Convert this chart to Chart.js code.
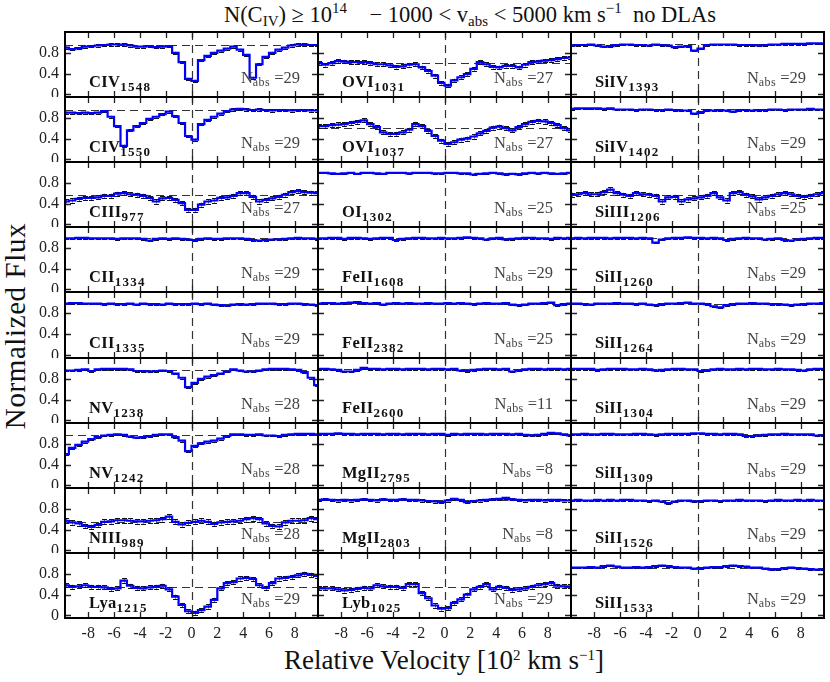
<!DOCTYPE html>
<html>
<head>
<meta charset="utf-8">
<script src="https://cdn.jsdelivr.net/npm/chart.js"></script>
<style>
body { margin: 0; background: #fff; }
#fig { position: relative; width: 830px; height: 682px; font-family: "Liberation Serif", serif; color: #111; }
#fig canvas { position: absolute; }
.txt { position: absolute; white-space: nowrap; line-height: 16px; }
.lab { font-size: 16.5px; font-weight: bold; letter-spacing: 0.3px; }
.lab sub { font-size: 13px; letter-spacing: 1.3px; vertical-align: -4px; line-height: 16px; }
.nabs { font-size: 16.5px; color: #444; text-align: right; }
.nabs sub { font-size: 12px; letter-spacing: 0.4px; vertical-align: -3px; line-height: 16px; }
#title { left: 470px; top: 2px; font-size: 22.5px; line-height: 26px; transform: translateX(-50%); }
#title sub, #xtitle sub { font-size: 15px; vertical-align: -4px; line-height: 10px; }
#title sup, #xtitle sup { font-size: 15px; vertical-align: 9px; line-height: 10px; }
#xtitle { left: 444px; top: 645px; font-size: 27px; line-height: 30px; transform: translateX(-50%); }
#ytitle { left: 15px; top: 326px; font-size: 29px; letter-spacing: 0.6px; line-height: 30px; transform: translate(-50%, -50%) rotate(-90deg); }
</style>
</head>
<body>
<div id="fig">
  <div id="title" class="txt">N(C<sub>IV</sub>) ≥ 10<sup>14</sup> &nbsp;&nbsp; − 1000 &lt; v<sub>abs</sub> &lt; 5000 km s<sup>−1</sup> &nbsp;no DLAs</div>
  <div id="ytitle" class="txt">Normalized Flux</div>
  <div id="xtitle" class="txt">Relative Velocity [10<sup>2</sup> km s<sup>−1</sup>]</div>
</div>
<script>
// velocity bin centres, units of 100 km/s
const vel = [-9.75, -9.25, -8.75, -8.25, -7.75, -7.25, -6.75, -6.25, -5.75, -5.25,
             -4.75, -4.25, -3.75, -3.25, -2.75, -2.25, -1.75, -1.25, -0.75, -0.25,
              0.25, 0.75, 1.25, 1.75, 2.25, 2.75, 3.25, 3.75, 4.25, 4.75,
              5.25, 5.75, 6.25, 6.75, 7.25, 7.75, 8.25, 8.75, 9.25, 9.75];

const xTicks = [-8, -6, -4, -2, 0, 2, 4, 6, 8];
const xTickLabels = ["-8", "-6", "-4", "-2", "0", "2", "4", "6", "8"];
const yTicks = [0, 0.4, 0.8];
const yTickLabels = ["0", "0.4", "0.8"];

// column 1
const fCIV1548 = [0.90,0.87,0.89,0.92,0.93,0.94,0.95,0.96,0.96,0.96, 0.94,0.92,0.92,0.93,0.91,0.92,0.93,0.80,0.62,0.30,
                  0.26,0.66,0.74,0.80,0.84,0.88,0.92,0.86,0.76,0.32, 0.58,0.72,0.80,0.86,0.90,0.94,0.96,0.96,0.95,0.95];
const fCIV1550 = [0.90,0.90,0.89,0.90,0.89,0.90,0.93,0.82,0.64,0.26, 0.56,0.64,0.70,0.78,0.82,0.87,0.92,0.83,0.70,0.45,
                  0.38,0.68,0.76,0.82,0.88,0.93,0.96,0.97,0.96,0.95, 0.96,0.95,0.94,0.95,0.95,0.94,0.95,0.95,0.94,0.94];
const fCIII977 = [0.44,0.46,0.49,0.51,0.51,0.52,0.55,0.55,0.59,0.60, 0.58,0.57,0.55,0.51,0.44,0.50,0.51,0.47,0.41,0.28,
                  0.28,0.38,0.44,0.46,0.51,0.52,0.55,0.60,0.60,0.53, 0.44,0.47,0.50,0.53,0.57,0.62,0.64,0.62,0.61,0.60];
const fCII1334 = [0.98,0.98,0.99,0.99,0.98,0.98,0.98,0.98,0.97,0.98, 0.98,0.98,0.97,0.94,0.97,0.98,0.97,0.98,0.97,0.96,
                  0.95,0.97,0.98,0.97,0.97,0.98,0.98,0.98,0.97,0.95, 0.94,0.95,0.96,0.96,0.97,0.98,0.99,0.98,0.98,0.97];
const fCII1335 = [0.98,0.99,0.99,0.98,0.98,0.98,0.97,0.98,0.97,0.97, 0.98,0.96,0.98,0.97,0.97,0.96,0.98,0.97,0.97,0.97,
                  0.98,0.97,0.98,0.96,0.95,0.94,0.96,0.97,0.96,0.97, 0.98,0.98,0.98,0.97,0.97,0.98,0.98,0.97,0.96,0.95];
const fNV1238 = [0.96,0.96,0.97,0.98,0.95,0.98,0.99,0.99,0.99,0.99, 0.98,0.95,0.95,0.94,0.95,0.96,0.95,0.90,0.82,0.64,
                 0.72,0.80,0.84,0.87,0.90,0.94,0.98,0.96,0.94,0.94, 0.96,0.98,0.99,0.99,0.99,0.98,0.97,0.93,0.82,0.68];
const fNV1242 = [0.60,0.72,0.78,0.84,0.89,0.93,0.96,0.97,0.98,0.97, 0.94,0.92,0.93,0.95,0.97,0.98,0.98,0.93,0.86,0.66,
                 0.76,0.81,0.84,0.86,0.90,0.95,0.98,0.98,0.97,0.97, 0.98,0.96,0.96,0.95,0.97,0.98,0.99,0.99,0.99,0.98];
const fNIII989 = [0.57,0.54,0.52,0.47,0.45,0.49,0.55,0.56,0.58,0.58, 0.57,0.56,0.56,0.57,0.58,0.60,0.65,0.55,0.50,0.53,
                  0.55,0.57,0.55,0.51,0.54,0.55,0.56,0.57,0.60,0.62, 0.60,0.52,0.47,0.46,0.54,0.57,0.57,0.58,0.62,0.60];
const fLya1215 = [0.58,0.55,0.56,0.58,0.55,0.55,0.54,0.51,0.52,0.67, 0.57,0.53,0.52,0.54,0.55,0.57,0.50,0.36,0.20,0.08,
                  0.05,0.10,0.17,0.30,0.52,0.62,0.64,0.71,0.72,0.70, 0.58,0.53,0.62,0.71,0.72,0.74,0.77,0.80,0.78,0.76];
// column 2
const fOVI1031 = [0.60,0.57,0.60,0.64,0.63,0.62,0.62,0.62,0.60,0.58, 0.58,0.56,0.53,0.54,0.57,0.58,0.52,0.45,0.36,0.22,
                  0.17,0.27,0.33,0.39,0.49,0.62,0.58,0.53,0.52,0.55, 0.55,0.52,0.57,0.62,0.63,0.65,0.66,0.68,0.70,0.71];
const fOVI1037 = [0.64,0.64,0.66,0.67,0.68,0.70,0.72,0.75,0.68,0.62, 0.52,0.49,0.49,0.52,0.57,0.68,0.64,0.55,0.45,0.36,
                  0.30,0.33,0.38,0.40,0.44,0.50,0.55,0.61,0.63,0.60, 0.56,0.62,0.68,0.72,0.74,0.73,0.70,0.66,0.60,0.56];
const fOI1302 = [0.99,0.99,0.98,0.97,0.98,0.99,0.97,0.99,0.99,0.98, 0.97,0.99,0.99,0.99,0.98,0.99,0.99,0.99,0.98,0.98,
                 0.99,0.99,0.98,0.98,0.96,0.97,0.98,0.99,0.98,0.96, 0.97,0.96,0.98,0.99,0.98,0.99,0.98,0.97,0.98,0.99];
const fFeII1608 = [0.98,0.98,0.99,0.99,0.97,0.99,0.99,0.98,0.97,0.98, 0.99,0.99,0.95,0.97,0.98,0.99,0.99,0.98,0.98,0.99,
                   0.98,0.98,0.99,1.00,0.99,0.98,0.96,0.98,0.99,0.96, 0.97,0.98,0.99,0.99,0.98,0.98,0.97,0.99,0.98,0.99];
const fFeII2382 = [0.98,0.99,0.99,0.98,0.99,1.00,1.01,0.99,0.98,0.99, 0.96,0.98,0.99,0.98,0.99,0.98,0.98,0.99,0.98,0.98,
                   0.99,0.98,0.99,0.98,0.97,0.98,0.99,0.98,0.98,0.99, 0.96,0.95,0.96,0.98,0.98,0.99,1.00,0.95,0.97,0.98];
const fFeII2600 = [0.99,0.99,0.98,0.97,0.94,0.94,0.97,1.01,0.99,0.99, 0.98,0.99,0.99,0.98,0.99,0.99,0.99,0.98,0.99,0.99,
                   0.98,0.99,0.96,0.95,0.97,0.98,0.99,0.99,0.98,0.99, 0.94,0.96,0.98,0.99,0.99,0.98,0.99,0.99,0.98,0.99];
const fMgII2795 = [0.99,0.99,0.99,1.00,0.99,0.99,0.98,0.99,0.99,0.99, 0.98,0.99,0.99,0.98,0.99,0.99,0.99,0.98,0.99,0.99,
                   0.97,0.99,0.98,0.99,0.99,0.99,0.98,0.99,0.99,0.99, 0.98,0.99,0.97,0.96,0.97,0.99,1.01,1.00,0.98,0.96];
const fMgII2803 = [0.97,0.98,0.97,0.96,0.97,0.96,0.97,0.98,0.97,0.96, 0.98,0.97,0.97,0.98,0.97,0.97,0.96,0.95,0.94,0.93,
                   0.96,0.99,0.97,0.93,0.95,0.96,0.97,0.98,0.99,1.01, 0.98,0.97,0.96,0.97,0.97,0.96,0.97,0.97,0.96,0.96];
const fLyb1025 = [0.52,0.52,0.52,0.50,0.48,0.49,0.51,0.53,0.52,0.58, 0.56,0.55,0.55,0.53,0.60,0.60,0.43,0.33,0.19,0.13,
                  0.14,0.24,0.31,0.40,0.50,0.55,0.60,0.50,0.55,0.53, 0.49,0.50,0.52,0.55,0.58,0.60,0.62,0.57,0.56,0.56];
// column 3
const fSiIV1393 = [0.94,0.95,0.95,0.96,0.94,0.92,0.93,0.95,0.96,0.96, 0.95,0.95,0.94,0.96,0.95,0.94,0.91,0.92,0.93,0.84,
                   0.88,0.95,0.96,0.96,0.96,0.96,0.95,0.95,0.95,0.94, 0.95,0.96,0.96,0.97,0.97,0.97,0.97,0.98,0.98,0.98];
const fSiIV1402 = [0.97,0.98,0.98,0.98,0.98,0.97,0.98,0.96,0.96,0.96, 0.95,0.96,0.96,0.95,0.95,0.96,0.95,0.94,0.94,0.88,
                   0.91,0.95,0.94,0.95,0.94,0.92,0.95,0.95,0.94,0.95, 0.95,0.96,0.96,0.95,0.96,0.96,0.96,0.97,0.96,0.96];
const fSiIII1206 = [0.57,0.58,0.60,0.58,0.58,0.62,0.67,0.60,0.57,0.55, 0.60,0.58,0.57,0.55,0.44,0.52,0.53,0.44,0.48,0.50,
                    0.52,0.55,0.60,0.52,0.46,0.60,0.62,0.57,0.54,0.48, 0.52,0.55,0.58,0.60,0.58,0.55,0.53,0.55,0.58,0.60];
const fSiII1260 = [0.98,0.99,0.98,0.99,0.99,0.99,0.98,0.99,0.99,0.99, 0.98,0.99,0.98,0.90,0.96,0.98,0.99,0.99,1.00,0.99,
                   0.99,0.98,0.99,0.98,0.95,0.97,0.98,0.99,0.98,0.98, 0.96,0.97,0.98,0.95,0.94,0.96,0.97,0.98,0.99,0.99];
const fSiII1264 = [0.98,0.98,0.97,0.96,0.98,0.98,0.98,0.99,0.98,0.98, 0.97,0.98,0.96,0.95,0.97,0.98,0.98,0.99,1.00,0.98,
                   0.98,0.97,0.93,0.91,0.95,0.97,0.98,0.98,0.99,0.98, 0.98,0.97,0.97,0.96,0.95,0.96,0.97,0.98,0.98,0.99];
const fSiII1304 = [0.99,0.99,0.99,0.99,0.97,0.98,0.99,0.99,0.99,0.98, 0.98,0.99,0.98,0.96,0.97,0.98,0.99,0.99,0.98,0.98,
                   0.95,0.96,0.98,0.99,0.98,0.98,0.99,0.98,0.99,0.99, 0.98,0.98,0.99,0.98,0.98,0.97,0.96,0.98,0.99,0.99];
const fSiII1309 = [0.98,0.98,0.99,0.98,0.98,0.99,0.99,0.98,0.98,0.98, 0.99,0.99,0.98,0.97,0.98,0.99,0.99,0.99,0.99,1.00,
                   1.00,0.99,0.99,0.98,0.99,0.99,0.98,0.95,0.95,0.96, 0.97,0.98,0.98,0.99,0.98,0.98,0.98,0.98,0.96,0.96];
const fSiII1526 = [0.96,0.97,0.96,0.96,0.97,0.96,0.97,0.96,0.97,0.97, 0.96,0.96,0.95,0.96,0.94,0.91,0.94,0.96,0.96,0.94,
                   0.95,0.96,0.96,0.95,0.96,0.96,0.97,0.96,0.96,0.96, 0.95,0.96,0.97,0.96,0.96,0.97,0.96,0.97,0.96,0.96];
const fSiII1533 = [0.92,0.92,0.92,0.93,0.92,0.95,0.96,0.94,0.92,0.92, 0.93,0.92,0.93,0.95,0.96,0.95,0.93,0.92,0.92,0.90,
                   0.91,0.92,0.93,0.93,0.95,0.96,0.95,0.94,0.92,0.92, 0.90,0.88,0.89,0.91,0.92,0.91,0.90,0.89,0.88,0.88];

// panels, column by column
const flux = [fCIV1548, fCIV1550, fCIII977, fCII1334, fCII1335, fNV1238, fNV1242, fNIII989, fLya1215,
              fOVI1031, fOVI1037, fOI1302, fFeII1608, fFeII2382, fFeII2600, fMgII2795, fMgII2803, fLyb1025,
              fSiIV1393, fSiIV1402, fSiIII1206, fSiII1260, fSiII1264, fSiII1304, fSiII1309, fSiII1526, fSiII1533];
const ions = ["CIV", "CIV", "CIII", "CII", "CII", "NV", "NV", "NIII", "Lya",
              "OVI", "OVI", "OI", "FeII", "FeII", "FeII", "MgII", "MgII", "Lyb",
              "SiIV", "SiIV", "SiIII", "SiII", "SiII", "SiII", "SiII", "SiII", "SiII"];
const waves = ["1548", "1550", "977", "1334", "1335", "1238", "1242", "989", "1215",
               "1031", "1037", "1302", "1608", "2382", "2600", "2795", "2803", "1025",
               "1393", "1402", "1206", "1260", "1264", "1304", "1309", "1526", "1533"];
const nAbs = [29, 29, 27, 29, 29, 28, 28, 28, 29,
              27, 27, 25, 29, 25, 11, 8, 8, 29,
              29, 29, 25, 29, 29, 29, 29, 29, 29];
const contLevel = [0.95, 0.95, 0.57, 0.98, 0.98, 0.97, 0.97, 0.55, 0.55,
                   0.61, 0.60, 0.98, 0.98, 0.98, 0.98, 0.98, 0.97, 0.55,
                   0.96, 0.96, 0.57, 0.98, 0.98, 0.98, 0.98, 0.96, 0.92];
const errSize = [0.02, 0.02, 0.04, 0.012, 0.012, 0.015, 0.018, 0.045, 0.04,
                 0.035, 0.04, 0.01, 0.012, 0.012, 0.015, 0.015, 0.02, 0.04,
                 0.012, 0.012, 0.04, 0.012, 0.012, 0.012, 0.012, 0.012, 0.015];

const X_MIN = -9.8, X_MAX = 9.8, Y_MIN = -0.05, Y_MAX = 1.2;
const colEdges = [65, 318, 571, 824];
const rowEdges = [32, 97, 162, 227, 292, 358, 423, 488, 553, 618];
const PAD_L = 40, PAD_B = 30;

Chart.defaults.font.family = "'Liberation Serif', serif";

// dashed guides, error bars, inward ticks and the panel frame
const panelDecor = {
    id: "panelDecor",
    beforeDatasetsDraw(chart, args, opts) {
        const { ctx, chartArea: a, scales: { x, y } } = chart;
        const i = opts.idx;
        ctx.save();
        ctx.beginPath();
        ctx.rect(a.left, a.top, a.width, a.height);
        ctx.clip();
        ctx.strokeStyle = "#333";
        ctx.lineWidth = 1.2;
        ctx.setLineDash([8, 5]);
        const x0 = Math.round(x.getPixelForValue(0)) + 0.5;
        ctx.beginPath();
        ctx.moveTo(x0, a.top);
        ctx.lineTo(x0, a.bottom);
        const yc = Math.round(y.getPixelForValue(contLevel[i])) + 0.5;
        ctx.moveTo(a.left, yc);
        ctx.lineTo(a.right, yc);
        ctx.stroke();
        ctx.setLineDash([]);
        // error bars
        const f = flux[i], e = errSize[i];
        ctx.lineWidth = 1;
        for (let k = 0; k < vel.length; k++) {
            const px = Math.round(x.getPixelForValue(vel[k])) + 0.5;
            const top = y.getPixelForValue(f[k] + e);
            const bot = y.getPixelForValue(f[k] - e);
            ctx.strokeStyle = "#666";
            ctx.beginPath();
            ctx.moveTo(px, top);
            ctx.lineTo(px, bot);
            ctx.stroke();
            ctx.strokeStyle = "#111";
            ctx.beginPath();
            ctx.moveTo(px - 2.5, Math.round(top) + 0.5);
            ctx.lineTo(px + 2.5, Math.round(top) + 0.5);
            ctx.moveTo(px - 2.5, Math.round(bot) + 0.5);
            ctx.lineTo(px + 2.5, Math.round(bot) + 0.5);
            ctx.stroke();
        }
        ctx.restore();
    },
    afterDraw(chart) {
        const { ctx, chartArea: a, scales: { x, y } } = chart;
        ctx.save();
        ctx.strokeStyle = "#222";
        ctx.lineWidth = 1.3;
        ctx.beginPath();
        xTicks.forEach(v => {
            const px = Math.round(x.getPixelForValue(v)) + 0.5;
            ctx.moveTo(px, a.top);
            ctx.lineTo(px, a.top + 6);
            ctx.moveTo(px, a.bottom);
            ctx.lineTo(px, a.bottom - 6);
        });
        yTicks.forEach(v => {
            const py = Math.round(y.getPixelForValue(v)) + 0.5;
            ctx.moveTo(a.left, py);
            ctx.lineTo(a.left + 6, py);
            ctx.moveTo(a.right, py);
            ctx.lineTo(a.right - 6, py);
        });
        ctx.stroke();
        ctx.strokeStyle = "#000";
        ctx.lineWidth = 2;
        ctx.strokeRect(a.left, a.top, a.width, a.height);
        ctx.restore();
    }
};

const fig = document.getElementById("fig");

flux.forEach((f, i) => {
    const c = Math.floor(i / 9), r = i % 9;
    const showX = r === 8, showY = c === 0;
    const padT = r === 0 ? 2 : 0, padR = c === 2 ? 2 : 0;
    const left = colEdges[c] - (showY ? PAD_L : 0);
    const top = rowEdges[r] - padT;
    const w = colEdges[c + 1] - colEdges[c] + (showY ? PAD_L : 0) + padR;
    const h = rowEdges[r + 1] - rowEdges[r] + (showX ? PAD_B : 0) + padT;

    const cv = document.createElement("canvas");
    cv.width = w;
    cv.height = h;
    cv.style.left = left + "px";
    cv.style.top = top + "px";
    cv.style.width = w + "px";
    cv.style.height = h + "px";
    fig.appendChild(cv);

    new Chart(cv, {
        type: "line",
        data: {
            datasets: [{
                data: vel.map((v, k) => ({ x: v, y: f[k] })),
                stepped: "middle",
                borderColor: "#0000ff",
                borderWidth: 2.2,
                pointRadius: 0,
                fill: false
            }]
        },
        options: {
            responsive: false,
            maintainAspectRatio: false,
            animation: false,
            events: [],
            devicePixelRatio: 1,
            layout: { padding: { top: padT, right: padR, left: 0, bottom: 0 } },
            plugins: {
                legend: { display: false },
                tooltip: { enabled: false },
                panelDecor: { idx: i }
            },
            scales: {
                x: {
                    type: "linear",
                    min: X_MIN,
                    max: X_MAX,
                    display: showX,
                    grid: { display: false, drawTicks: false },
                    border: { display: false },
                    afterBuildTicks: s => { s.ticks = xTicks.map(v => ({ value: v })) },
                    afterFit: s => {
                        s.height = showX ? PAD_B : 0;
                        s.paddingLeft = 0;
                        s.paddingRight = 0;
                    },
                    ticks: {
                        color: "#222",
                        font: { size: 16 },
                        padding: 6,
                        maxRotation: 0,
                        autoSkip: false,
                        callback: v => xTickLabels[xTicks.indexOf(v)]
                    }
                },
                y: {
                    type: "linear",
                    min: Y_MIN,
                    max: Y_MAX,
                    display: showY,
                    grid: { display: false, drawTicks: false },
                    border: { display: false },
                    afterBuildTicks: s => { s.ticks = yTicks.map(v => ({ value: v })) },
                    afterFit: s => {
                        s.width = showY ? PAD_L : 0;
                        s.paddingTop = 0;
                        s.paddingBottom = 0;
                    },
                    ticks: {
                        color: "#222",
                        font: { size: 16 },
                        padding: 6,
                        autoSkip: false,
                        callback: v => yTickLabels[yTicks.indexOf(v)]
                    }
                }
            }
        },
        plugins: [panelDecor]
    });

    const lab = document.createElement("div");
    lab.className = "txt lab";
    lab.style.left = (colEdges[c] + 24) + "px";
    lab.style.top = (rowEdges[r + 1] - 23) + "px";
    lab.innerHTML = ions[i] + "<sub>" + waves[i] + "</sub>";
    fig.appendChild(lab);

    const na = document.createElement("div");
    na.className = "txt nabs";
    na.style.right = (830 - colEdges[c + 1] + 18) + "px";
    na.style.top = (rowEdges[r + 1] - 27) + "px";
    na.innerHTML = "N<sub>abs</sub> =" + nAbs[i];
    fig.appendChild(na);
});
</script>
</body>
</html>
